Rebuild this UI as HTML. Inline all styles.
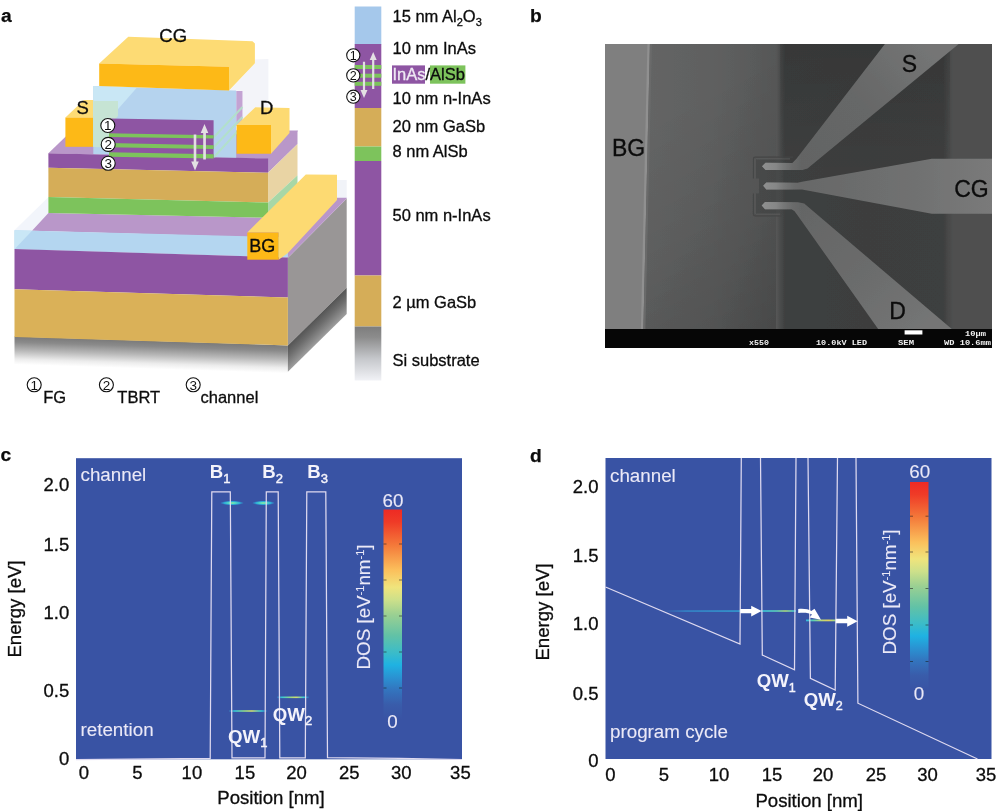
<!DOCTYPE html>
<html lang="en">
<head>
<meta charset="utf-8">
<title>Figure: device structure, SEM image and band simulations</title>
<style>
html,body{margin:0;padding:0;background:#fff;}
body{width:1000px;height:811px;overflow:hidden;font-family:"Liberation Sans",sans-serif;}
svg{display:block;position:absolute;left:0;top:0;}
text{font-family:"Liberation Sans",sans-serif;}
.lbl{font-weight:bold;font-size:19.2px;fill:#0c0c0c;stroke:#0c0c0c;stroke-width:0.25px;}
.ax{font-size:18.6px;fill:#0c0c0c;stroke:#0c0c0c;stroke-width:0.3px;}
.tk{font-size:18.5px;fill:#0c0c0c;stroke:#0c0c0c;stroke-width:0.3px;}
.w{font-size:18.8px;fill:#ebe9f7;stroke:#ebe9f7;stroke-width:0.1px;}
.wb{font-size:18.6px;font-weight:bold;fill:#f4f3fb;}
.qw{font-size:18.7px;font-weight:bold;fill:#f4f3fb;}
.band{fill:none;stroke:#dfdaf0;stroke-width:1.25;stroke-linejoin:miter;}
.mono{font-family:"Liberation Mono",monospace;font-weight:bold;font-size:6.4px;fill:#f2f2f2;}
.ly{font-size:16.5px;fill:#0c0c0c;stroke:#0c0c0c;stroke-width:0.3px;}
</style>
</head>
<body>
<svg width="1000" height="811" viewBox="0 0 1000 811">
<defs>
<linearGradient id="jet" x1="0" y1="0" x2="0" y2="1">
<stop offset="0" stop-color="#ee2a24"/>
<stop offset="0.06" stop-color="#ef3b27"/>
<stop offset="0.17" stop-color="#f4793a"/>
<stop offset="0.29" stop-color="#fbc05c"/>
<stop offset="0.37" stop-color="#f0e47c"/>
<stop offset="0.43" stop-color="#cde08a"/>
<stop offset="0.50" stop-color="#9bd092"/>
<stop offset="0.60" stop-color="#62c2a6"/>
<stop offset="0.68" stop-color="#3cbcc8"/>
<stop offset="0.74" stop-color="#1fb2e2"/>
<stop offset="0.80" stop-color="#2a92d2"/>
<stop offset="0.86" stop-color="#3374be"/>
<stop offset="0.93" stop-color="#395caa"/>
<stop offset="1" stop-color="#3953a4"/>
</linearGradient>
</defs>
<!-- ================= panel a ================= -->
<g id="panel-a">
<defs>
<linearGradient id="gfront" x1="0" y1="0" x2="0" y2="1">
<stop offset="0" stop-color="#7a7a7a"/>
<stop offset="0.2" stop-color="#8a8a8a"/>
<stop offset="0.5" stop-color="#b8b8b8"/>
<stop offset="0.8" stop-color="#ececec"/>
<stop offset="1" stop-color="#ffffff"/>
</linearGradient>
<linearGradient id="gside" x1="0" y1="0" x2="0" y2="1">
<stop offset="0" stop-color="#545454"/>
<stop offset="0.4" stop-color="#6c6c6c"/>
<stop offset="0.8" stop-color="#8c8c8c"/>
<stop offset="1" stop-color="#9e9e9e"/>
</linearGradient>
<linearGradient id="gcol" x1="0" y1="0" x2="0" y2="1">
<stop offset="0" stop-color="#7d7d7d"/>
<stop offset="0.2" stop-color="#8c8c8c"/>
<stop offset="0.6" stop-color="#c6c8cc"/>
<stop offset="1" stop-color="#f1f2f6"/>
</linearGradient>
</defs>
<text class="lbl" x="1" y="21.500">a</text>

<!-- ===== big bottom block ===== -->
<!-- front shadow gradient (Si) -->
<rect x="0" y="0" width="273.400" height="28" transform="matrix(1 0.03255 0 1 14.500 336.500)" fill="url(#gfront)"/>
<!-- side face -->
<path d="M287.900 257.800L346.700 198.500V287.700L287.900 345.400Z" fill="#999696"/>
<rect x="0" y="0" width="58.800" height="26.400" transform="matrix(1 -0.981 0 1 287.900 345.400)" fill="url(#gside)"/>
<!-- translucent alumina hints -->
<path d="M14.500 230.200L48.400 197.300V213L32 230.700Z" fill="#f2f5fb"/>
<path d="M337 180H346.700V198H337Z" fill="#f1f3f8"/>
<!-- top face pale purple -->
<path d="M32 230.700L48.400 213L268 217.700L297.500 186L337 197.700H346.700V198.500L287.900 257.800L247 237Z" fill="#b997c9"/>
<!-- alumina front band -->
<path d="M14.500 230.200L287.900 237.200V257.500L14.500 249.200Z" fill="#b4d6f0"/>
<path d="M14.500 230.200L32 230.700L14.500 249.200Z" fill="#c9e7f6"/>
<!-- front purple / gold -->
<path d="M14.500 249L287.900 257.500V297.500L14.500 289.200Z" fill="#8e55a3"/>
<path d="M14.500 289.200L287.900 297.500V345.400L14.500 337Z" fill="#dab158"/>

<!-- ===== mesa ===== -->
<!-- side face -->
<path d="M267.600 158.200L297.500 130.200V144.100L268.100 172.800Z" fill="#b997c9"/>
<path d="M268.100 172.800L297.500 144.100V175.200L268.100 202.500Z" fill="#e9d4a4"/>
<path d="M268.100 202.500L297.500 175.200V188L268.100 217.700Z" fill="#a8d7a6"/>
<!-- top face -->
<path d="M48.400 153.200L72 130.500H297.500V131.500L268.400 159Z" fill="#b997c9"/>
<!-- front layers -->
<path d="M48.400 153.200L268.100 158.600V172.800L48.400 167.700Z" fill="#8e55a3"/>
<path d="M48.400 167.700L268.100 172.800V202.500L48.400 197Z" fill="#d5ad58"/>
<path d="M48.400 197L268.100 202.500V217.700L48.400 213Z" fill="#7dc35c"/>

<!-- ===== BG contact ===== -->
<path d="M247.300 232.500L305.800 174.400L337 174.700V200L287.900 253L278.600 259.700V232.500Z" fill="#fdda72"/>
<path d="M247.300 232.500H278.600V259.700H247.300Z" fill="#fdb917"/>

<!-- ===== S contact ===== -->
<path d="M65.400 117.500L84 100H118V117.500Z" fill="#fddb74"/>
<path d="M65.400 117.500H93.300V146.800H65.400Z" fill="#fdb917"/>

<!-- ===== alumina block ===== -->
<!-- translucent back/side -->
<path d="M230 90L254.900 63.300V59.500L268.400 59V107.300H255.300L242.500 120V91Z" fill="#f3f4f9"/>
<path d="M236.200 91H242.500V120L236.200 126Z" fill="#c3a3d3"/>
<!-- front face -->
<path d="M93.300 86L236.200 90.600V157.800L93.300 154Z" fill="#b5d3ee"/>
<path d="M93.300 86L137 87.400L112 116L93.300 116Z" fill="#c9e7f5"/>
<path d="M93.300 101H118V116L110 125V147L93.300 146.600Z" fill="#c6e4d4"/>
<path d="M93.300 116H112L110 125V147.500L93.300 147Z" fill="#c6e4d4"/>
<!-- diagonal faint green lines on side -->
<g stroke="#b2e2c8" stroke-width="2" fill="none" opacity="0.9">
<path d="M214 137L242.500 107"/>
<path d="M214 147L242.500 117"/>
<path d="M214 157L238 131"/>
</g>
<!-- inner purple block -->
<path d="M109 118.400L213.600 120.300V158.600L109 154.500Z" fill="#8e55a3"/>
<path d="M109 133.200L213.600 135.300V138.600L109 136.900Z" fill="#7dc35c"/>
<path d="M109 143L213.600 145.200V148.900L109 147.200Z" fill="#7dc35c"/>
<path d="M109 152.200L213.600 154.300V158.600L109 156.800Z" fill="#7dc35c"/>
<!-- arrows -->
<g fill="#e3e0e3">
<path d="M203.200 159.400V133H200.700L204.500 124L208.300 133H205.900V159.400Z"/>
<path d="M193.700 134.500H196.300V161.500H198.800L195 170.500L191.200 161.500H193.700Z"/>
</g>

<!-- ===== D contact ===== -->
<path d="M236.600 124.900L255.300 107.300L289.500 108V133L271 153.700V124.900Z" fill="#fdda72"/>
<path d="M236.600 124.900H271V153.700H236.600Z" fill="#fdb917"/>

<!-- ===== CG contact ===== -->
<path d="M99.200 63.600L128.300 36.800L252.500 41.300L254.900 43.500V63.300L229 90.400V66.700Z" fill="#fddb74"/>
<path d="M99.200 63.600L229 66.700V90.400L99.200 86Z" fill="#fdb917"/>

<!-- circles -->
<g fill="#fff" stroke="#111" stroke-width="1.1">
<circle cx="107.800" cy="125.500" r="7"/>
<circle cx="108.200" cy="144.400" r="7"/>
<circle cx="108.200" cy="163.300" r="7"/>
</g>
<g font-size="13.500" fill="#111" text-anchor="middle">
<text x="107.800" y="130.300">1</text>
<text x="108.200" y="149.200">2</text>
<text x="108.200" y="168.100">3</text>
</g>
<!-- contact labels -->
<text x="159.300" y="41.700" font-size="18.500" fill="#0c0c0c" stroke="#0c0c0c" stroke-width="0.3">CG</text>
<text x="76.500" y="113.500" font-size="18.500" fill="#0c0c0c" stroke="#0c0c0c" stroke-width="0.3">S</text>
<text x="260" y="113.500" font-size="18.500" fill="#0c0c0c" stroke="#0c0c0c" stroke-width="0.3">D</text>
<text x="249.300" y="252.200" font-size="18" fill="#0c0c0c" stroke="#0c0c0c" stroke-width="0.3">BG</text>

<!-- ===== layer column ===== -->
<rect x="354.700" y="6.500" width="26.600" height="38" fill="#a5c8eb"/>
<rect x="354.700" y="44" width="26.600" height="64" fill="#8e55a3"/>
<rect x="354.700" y="65" width="26.600" height="4" fill="#7dc35c"/>
<rect x="354.700" y="73.700" width="26.600" height="4" fill="#7dc35c"/>
<rect x="354.700" y="81.800" width="26.600" height="4" fill="#7dc35c"/>
<rect x="354.700" y="108" width="26.600" height="38.500" fill="#d5ad58"/>
<rect x="354.700" y="146.500" width="26.600" height="14.500" fill="#7dc35c"/>
<rect x="354.700" y="161" width="26.600" height="114.500" fill="#8e55a3"/>
<rect x="354.700" y="275.500" width="26.600" height="51" fill="#d5ad58"/>
<rect x="354.700" y="326.500" width="26.600" height="54" fill="url(#gcol)"/>
<g fill="#e3e0e3">
<path d="M372.100 89V60H369.700L373.200 52L376.700 60H374.300V89Z"/>
<path d="M362.900 61.700H365.100V90H367.500L364 98L360.500 90H362.900Z"/>
</g>
<g fill="#fff" stroke="#111" stroke-width="1.1">
<circle cx="353.300" cy="55.300" r="6.600"/>
<circle cx="353.300" cy="75.400" r="6.600"/>
<circle cx="353.300" cy="96.700" r="6.600"/>
</g>
<g font-size="12.500" fill="#111" text-anchor="middle">
<text x="353.300" y="59.700">1</text>
<text x="353.300" y="79.800">2</text>
<text x="353.300" y="101.100">3</text>
</g>
<rect x="392" y="65.400" width="33" height="18.300" fill="#8e55a3"/>
<rect x="430" y="65.400" width="35.400" height="18.300" fill="#7dc35c"/>
<text class="ly" x="392.500" y="22.300">15 nm Al<tspan font-size="11" dy="4">2</tspan><tspan dy="-4">O</tspan><tspan font-size="11" dy="4">3</tspan></text>
<text class="ly" x="392.500" y="54.400">10 nm InAs</text>
<text class="ly" x="392.500" y="80.400"><tspan fill="#efe9f4" stroke="#efe9f4">InAs</tspan>/AlSb</text>
<text class="ly" x="392.500" y="104.100">10 nm n-InAs</text>
<text class="ly" x="392.500" y="131.500">20 nm GaSb</text>
<text class="ly" x="392.500" y="157.100">8 nm AlSb</text>
<text class="ly" x="392.500" y="220.900">50 nm n-InAs</text>
<text class="ly" x="392.500" y="308.300">2 µm GaSb</text>
<text class="ly" x="392.500" y="365.700">Si substrate</text>

<!-- ===== legend ===== -->
<g fill="#fff" stroke="#111" stroke-width="1.1">
<circle cx="34.200" cy="384.800" r="7"/>
<circle cx="106.400" cy="384.800" r="7"/>
<circle cx="193.200" cy="384.800" r="7"/>
</g>
<g font-size="13.500" fill="#111" text-anchor="middle">
<text x="34.200" y="389.600">1</text>
<text x="106.400" y="389.600">2</text>
<text x="193.200" y="389.600">3</text>
</g>
<text class="ly" x="43.200" y="402.700">FG</text>
<text class="ly" x="117.300" y="402.700">TBRT</text>
<text class="ly" x="200.500" y="402.700">channel</text>
</g>
<!-- ================= panel b ================= -->
<g id="panel-b">
<defs>
<clipPath id="semclip"><rect x="605" y="44" width="387" height="304"/></clipPath>
<linearGradient id="semleft" gradientUnits="userSpaceOnUse" x1="645" y1="0" x2="780" y2="0">
<stop offset="0" stop-color="#646565"/>
<stop offset="0.5" stop-color="#5f6060"/>
<stop offset="1" stop-color="#565757"/>
</linearGradient>
<linearGradient id="semmid" gradientUnits="userSpaceOnUse" x1="776" y1="0" x2="953" y2="0">
<stop offset="0" stop-color="#565757"/>
<stop offset="0.05" stop-color="#3e4040"/>
<stop offset="0.5" stop-color="#3d3e3e"/>
<stop offset="0.945" stop-color="#3e3f3f"/>
<stop offset="0.972" stop-color="#474848"/>
<stop offset="1" stop-color="#4f5050"/>
</linearGradient>
<linearGradient id="semS" gradientUnits="userSpaceOnUse" x1="800" y1="165" x2="930" y2="50">
<stop offset="0" stop-color="#636464"/>
<stop offset="0.5" stop-color="#666767"/>
<stop offset="1" stop-color="#747575"/>
</linearGradient>
<linearGradient id="semF" gradientUnits="userSpaceOnUse" x1="762" y1="0" x2="802" y2="0">
<stop offset="0" stop-color="#8f9090"/>
<stop offset="0.35" stop-color="#868787"/>
<stop offset="0.6" stop-color="#767777" stop-opacity="0.8"/>
<stop offset="1" stop-color="#6b6c6c" stop-opacity="0"/>
</linearGradient>
<linearGradient id="semwin" gradientUnits="userSpaceOnUse" x1="755" y1="0" x2="786" y2="0">
<stop offset="0" stop-color="#3d3f3f" stop-opacity="0.55"/>
<stop offset="0.7" stop-color="#3d3f3f" stop-opacity="0.6"/>
<stop offset="1" stop-color="#3d3f3f" stop-opacity="0"/>
</linearGradient>
<linearGradient id="semCG" gradientUnits="userSpaceOnUse" x1="800" y1="0" x2="992" y2="0">
<stop offset="0" stop-color="#676868"/>
<stop offset="0.6" stop-color="#707171"/>
<stop offset="1" stop-color="#7a7a7a"/>
</linearGradient>
<linearGradient id="semD" gradientUnits="userSpaceOnUse" x1="800" y1="205" x2="920" y2="330">
<stop offset="0" stop-color="#646565"/>
<stop offset="0.6" stop-color="#6c6d6d"/>
<stop offset="1" stop-color="#747575"/>
</linearGradient>
<linearGradient id="semtop" x1="0" y1="0" x2="0" y2="1">
<stop offset="0" stop-color="#000" stop-opacity="0.12"/>
<stop offset="1" stop-color="#000" stop-opacity="0"/>
</linearGradient>
<linearGradient id="semdiag" gradientUnits="userSpaceOnUse" x1="670" y1="110" x2="790" y2="330">
<stop offset="0" stop-color="#000" stop-opacity="0"/>
<stop offset="0.5" stop-color="#000" stop-opacity="0.07"/>
<stop offset="1" stop-color="#000" stop-opacity="0.17"/>
</linearGradient>
<clipPath id="tipclip"><rect x="760" y="150" width="42" height="70"/></clipPath>
<filter id="soft" x="-5%" y="-5%" width="110%" height="110%"><feGaussianBlur stdDeviation="0.55"/></filter>
</defs>
<text class="lbl" x="530" y="21.500">b</text>
<g clip-path="url(#semclip)">
<rect x="605" y="44" width="387" height="304" fill="#5f6060"/>
<g filter="url(#soft)">
<rect x="640" y="40" width="140" height="295" fill="url(#semleft)"/>
<rect x="640" y="40" width="140" height="295" fill="url(#semdiag)"/>
<rect x="776" y="40" width="177" height="295" fill="url(#semmid)"/>
<rect x="952.500" y="40" width="43" height="295" fill="#4f5050"/>
<rect x="780" y="40" width="170" height="160" fill="url(#semtop)"/>
<!-- BG strip -->
<path d="M600 40H649.200L642.500 333H600Z" fill="#7f7f7f"/>
<path d="M647.500 40H650L643.300 333H640.800Z" fill="#909090"/>
<path d="M650 40H652L645.300 333H643.300Z" fill="#6a6b6b"/>
<!-- device window -->
<path d="M755 158.500H786V214.500H755V193.500H759V178.500H755Z" fill="url(#semwin)"/>
<!-- etched brackets -->
<g fill="none" stroke="#444545" stroke-width="1.300" opacity="0.9">
<path d="M753.500 178.500V158.500Q753.500 157.200 755 157.200H793"/>
<path d="M753.500 193.500V214.300Q753.500 215.800 755 215.800H782"/>
</g>
<g fill="none" stroke="#6a6b6b" stroke-width="0.800" opacity="0.7">
<path d="M755.200 178.500V159.700Q755.200 158.900 756.200 158.900H790"/>
<path d="M755.200 193.500V213.100Q755.200 214.100 756.200 214.100H780"/>
</g>
<!-- S electrode -->
<path id="elS" d="M762 166.300L765.500 162.800L792.500 162.900L796.500 158.800L888 40H963.500L807.500 168.500L802.500 169.900H765.500Z" fill="url(#semS)"/>
<!-- CG electrode -->
<path id="elCG" d="M763.200 185.800L766.300 182.600L797.700 182.800L802 181.800L931.800 158.700H995V213.700H931.800L802 189.500H766.300Z" fill="url(#semCG)"/>
<!-- D electrode -->
<path id="elD" d="M761.700 205.500L765 201.900L798 202.300L804.200 203.600L956.500 333H881L794.500 211L791.600 209.200H765Z" fill="url(#semD)"/>
<!-- brighter finger tips -->
<g clip-path="url(#tipclip)">
<path d="M762 166.300L765.500 162.800L792.500 162.900L796.500 158.800L888 40H963.500L807.500 168.500L802.500 169.900H765.500Z" fill="url(#semF)"/>
<path d="M763.200 185.800L766.300 182.600L797.700 182.800L802 181.800L931.800 158.700H995V213.700H931.800L802 189.500H766.300Z" fill="url(#semF)"/>
<path d="M761.700 205.500L765 201.900L798 202.300L804.200 203.600L956.500 333H881L794.500 211L791.600 209.200H765Z" fill="url(#semF)"/>
</g>
</g>
<!-- info bar -->
<rect x="605" y="329" width="387" height="19" fill="#060606"/>
<rect x="904.600" y="330.300" width="17.800" height="4.200" fill="#ffffff"/>
<text class="mono" x="749" y="344.800" textLength="20" lengthAdjust="spacingAndGlyphs">x550</text>
<text class="mono" x="816" y="344.800" textLength="51" lengthAdjust="spacingAndGlyphs">10.0kV LED</text>
<text class="mono" x="898" y="344.800" textLength="16" lengthAdjust="spacingAndGlyphs">SEM</text>
<text class="mono" x="944" y="344.800" textLength="47" lengthAdjust="spacingAndGlyphs">WD 10.6mm</text>
<text class="mono" x="965" y="336" textLength="21" lengthAdjust="spacingAndGlyphs">10µm</text>
</g>
<text x="612" y="156" font-size="23" fill="#0c0c0c" stroke="#0c0c0c" stroke-width="0.3">BG</text>
<text x="901.800" y="72.200" font-size="23" fill="#0c0c0c" stroke="#0c0c0c" stroke-width="0.3">S</text>
<text x="954.200" y="196.800" font-size="23" fill="#0c0c0c" stroke="#0c0c0c" stroke-width="0.3">CG</text>
<text x="889.200" y="318.800" font-size="23" fill="#0c0c0c" stroke="#0c0c0c" stroke-width="0.3">D</text>
</g>
<!-- ================= panel c ================= -->
<g id="panel-c">
<text class="lbl" x="0.5" y="461">c</text>
<rect x="76" y="458.200" width="386" height="301.100" fill="#3953a4"/>
<!-- colour bar -->
<rect x="383.5" y="509.5" width="18.5" height="210" fill="url(#jet)"/>
<g stroke="#1a1a1a" stroke-width="0.7" opacity="0.8">
<path d="M383.5 544h3M399 544h3M383.5 580h3M399 580h3M383.5 616h3M399 616h3M383.5 652h3M399 652h3M383.5 688h3M399 688h3"/>
</g>
<text class="w" x="393" y="506.500" text-anchor="middle">60</text>
<text class="w" x="392.500" y="727.500" text-anchor="middle">0</text>
<text class="w" transform="translate(369.500 607) rotate(-90)" text-anchor="middle">DOS [eV<tspan font-size="11" dy="-6">-1</tspan><tspan dy="6">nm</tspan><tspan font-size="11" dy="-6">-1</tspan><tspan dy="6">]</tspan></text>
<!-- DOS streaks -->
<defs>
<radialGradient id="st0" cx="0.5" cy="0.5" r="0.5">
<stop offset="0" stop-color="#c4ee88"/>
<stop offset="0.3" stop-color="#58dcc0"/>
<stop offset="0.65" stop-color="#2cb8dc" stop-opacity="0.9"/>
<stop offset="1" stop-color="#2c9ad8" stop-opacity="0"/>
</radialGradient>
<linearGradient id="st1" x1="0" y1="0" x2="1" y2="0">
<stop offset="0" stop-color="#2fb6e0" stop-opacity="0"/>
<stop offset="0.45" stop-color="#3fd0d0"/>
<stop offset="0.6" stop-color="#7fe0a0"/>
<stop offset="1" stop-color="#2fb6e0" stop-opacity="0"/>
</linearGradient>
<linearGradient id="st2" x1="0" y1="0" x2="1" y2="0">
<stop offset="0" stop-color="#2fb6e0" stop-opacity="0.2"/>
<stop offset="0.15" stop-color="#35c8d8"/>
<stop offset="0.4" stop-color="#8fd88a"/>
<stop offset="0.6" stop-color="#d0dc70"/>
<stop offset="0.85" stop-color="#35c8d8"/>
<stop offset="1" stop-color="#2fb6e0" stop-opacity="0.2"/>
</linearGradient>
</defs>
<ellipse cx="232" cy="503" rx="12" ry="2.300" fill="url(#st0)"/>
<ellipse cx="263.500" cy="503" rx="11.500" ry="2.300" fill="url(#st0)"/>
<rect x="229" y="710.200" width="38" height="1.600" fill="url(#st2)"/>
<rect x="277" y="696.500" width="32" height="1.600" fill="url(#st2)"/>
<!-- band edge -->
<path class="band" d="M76 759.600L210.200 758.400L211.800 491.800H230.300L232 757.800H265L266.300 491.800H278.200L279.800 757.800H305.300L306.800 491.800H325.800L327.500 757.600L400 758.300L462 759.500"/>
<text class="w" x="80.500" y="481.200">channel</text>
<text class="w" x="80.500" y="736.400">retention</text>
<text class="wb" x="209.8" y="478.200">B<tspan font-size="13" font-weight="normal" stroke="#f4f3fb" stroke-width="0.45" dy="4.500">1</tspan></text>
<text class="wb" x="262.3" y="478.200">B<tspan font-size="13" font-weight="normal" stroke="#f4f3fb" stroke-width="0.45" dy="4.500">2</tspan></text>
<text class="wb" x="307.3" y="478.200">B<tspan font-size="13" font-weight="normal" stroke="#f4f3fb" stroke-width="0.45" dy="4.500">3</tspan></text>
<text class="qw" x="228" y="742.500">QW<tspan font-size="13" font-weight="normal" stroke="#f4f3fb" stroke-width="0.45" dy="4.500">1</tspan></text>
<text class="qw" x="272.800" y="720.500">QW<tspan font-size="13" font-weight="normal" stroke="#f4f3fb" stroke-width="0.45" dy="4.500">2</tspan></text>
<!-- axes -->
<text class="tk" x="69.200" y="491" text-anchor="end">2.0</text>
<text class="tk" x="69.200" y="550.800" text-anchor="end">1.5</text>
<text class="tk" x="69.200" y="618.600" text-anchor="end">1.0</text>
<text class="tk" x="69.200" y="697.400" text-anchor="end">0.5</text>
<text class="tk" x="69.200" y="765.300" text-anchor="end">0</text>
<text class="tk" x="84" y="779.200" text-anchor="middle">0</text>
<text class="tk" x="137.500" y="779.200" text-anchor="middle">5</text>
<text class="tk" x="191.900" y="779.200" text-anchor="middle">10</text>
<text class="tk" x="244.900" y="779.200" text-anchor="middle">15</text>
<text class="tk" x="296.500" y="779.200" text-anchor="middle">20</text>
<text class="tk" x="349.300" y="779.200" text-anchor="middle">25</text>
<text class="tk" x="401.300" y="779.200" text-anchor="middle">30</text>
<text class="tk" x="460.400" y="779.200" text-anchor="middle">35</text>
<text class="ax" x="271" y="803.500" text-anchor="middle">Position [nm]</text>
<text class="ax" transform="translate(20.500 609) rotate(-90)" text-anchor="middle">Energy [eV]</text>
</g>
<!-- ================= panel d ================= -->
<g id="panel-d">
<text class="lbl" x="530" y="462">d</text>
<rect x="605.500" y="458" width="386" height="301" fill="#3953a4"/>
<!-- colour bar -->
<rect x="910" y="482" width="18.500" height="208" fill="url(#jet)"/>
<g stroke="#1a1a1a" stroke-width="0.7" opacity="0.8">
<path d="M910 516.200h3M925.500 516.200h3M910 552h3M925.500 552h3M910 588.500h3M925.500 588.500h3M910 625h3M925.500 625h3M910 661.500h3M925.500 661.500h3"/>
</g>
<text class="w" x="919.700" y="477.800" text-anchor="middle">60</text>
<text class="w" x="919" y="699.500" text-anchor="middle">0</text>
<text class="w" transform="translate(895.500 592) rotate(-90)" text-anchor="middle">DOS [eV<tspan font-size="11" dy="-6">-1</tspan><tspan dy="6">nm</tspan><tspan font-size="11" dy="-6">-1</tspan><tspan dy="6">]</tspan></text>
<defs>
<linearGradient id="sd1" x1="0" y1="0" x2="1" y2="0">
<stop offset="0" stop-color="#2f9fe0" stop-opacity="0"/>
<stop offset="0.3" stop-color="#2fa8e0" stop-opacity="0.7"/>
<stop offset="1" stop-color="#30b8e0" stop-opacity="0.9"/>
</linearGradient>
<linearGradient id="sd2" x1="0" y1="0" x2="1" y2="0">
<stop offset="0" stop-color="#35c8e0"/>
<stop offset="0.45" stop-color="#5fd0b8"/>
<stop offset="0.7" stop-color="#a8d880"/>
<stop offset="1" stop-color="#35c8e0"/>
</linearGradient>
<linearGradient id="sd3" x1="0" y1="0" x2="1" y2="0">
<stop offset="0" stop-color="#35b8e0"/>
<stop offset="0.25" stop-color="#5fd0b0"/>
<stop offset="0.5" stop-color="#b8d878"/>
<stop offset="0.75" stop-color="#e0d060"/>
<stop offset="1" stop-color="#8fd890"/>
</linearGradient>
</defs>
<rect x="662" y="610.400" width="79" height="1.300" fill="url(#sd1)"/>
<rect x="761" y="610.200" width="35" height="1.600" fill="url(#sd2)"/>
<rect x="806" y="619.500" width="30" height="1.800" fill="url(#sd3)"/>
<!-- band edge -->
<path class="band" d="M605.500 587L740 644L741.300 458M760.500 458L762.300 655L794.500 669.800L796 458M808 458L810.400 678.300L835.200 690L837.500 458M856 458L857.900 703.200L977.500 759"/>
<!-- arrows -->
<g fill="#fff" stroke="none">
<path d="M740.300 609H751.200V605.700L761.600 611L751.200 616.500V613.200H740.300Z"/>
<path d="M798.200 609C804 608.400 808.500 609.300 811.300 611L814.500 608.700L821 619.800L809.600 617.500L812 614.600C808.500 612.700 804 612.600 798.200 613.100Z"/>
<path d="M835.800 618.800H847.200V615.800L857.600 621.200L847.200 626.700V623.300H835.800Z"/>
</g>
<text class="w" x="610" y="481.500">channel</text>
<text class="w" x="610" y="737.500">program cycle</text>
<text class="qw" style="font-size:18.6px" x="756.700" y="687.300">QW<tspan font-size="12.500" font-weight="normal" stroke="#f4f3fb" stroke-width="0.45" dy="4.500">1</tspan></text>
<text class="qw" style="font-size:18.6px" x="803.800" y="705.500">QW<tspan font-size="12.500" font-weight="normal" stroke="#f4f3fb" stroke-width="0.45" dy="4.500">2</tspan></text>
<!-- axes -->
<text class="tk" x="598.500" y="492.800" text-anchor="end">2.0</text>
<text class="tk" x="598.500" y="561.800" text-anchor="end">1.5</text>
<text class="tk" x="598.500" y="629.500" text-anchor="end">1.0</text>
<text class="tk" x="598.500" y="700" text-anchor="end">0.5</text>
<text class="tk" x="598.500" y="767" text-anchor="end">0</text>
<text class="tk" x="610.500" y="780.500" text-anchor="middle">0</text>
<text class="tk" x="664" y="780.500" text-anchor="middle">5</text>
<text class="tk" x="719" y="780.500" text-anchor="middle">10</text>
<text class="tk" x="772" y="780.500" text-anchor="middle">15</text>
<text class="tk" x="823" y="780.500" text-anchor="middle">20</text>
<text class="tk" x="876" y="780.500" text-anchor="middle">25</text>
<text class="tk" x="927.500" y="780.500" text-anchor="middle">30</text>
<text class="tk" x="986" y="780.500" text-anchor="middle">35</text>
<text class="ax" x="809.200" y="807" text-anchor="middle">Position [nm]</text>
<text class="ax" transform="translate(548.500 612) rotate(-90)" text-anchor="middle">Energy [eV]</text>
</g>
</svg>
</body>
</html>
